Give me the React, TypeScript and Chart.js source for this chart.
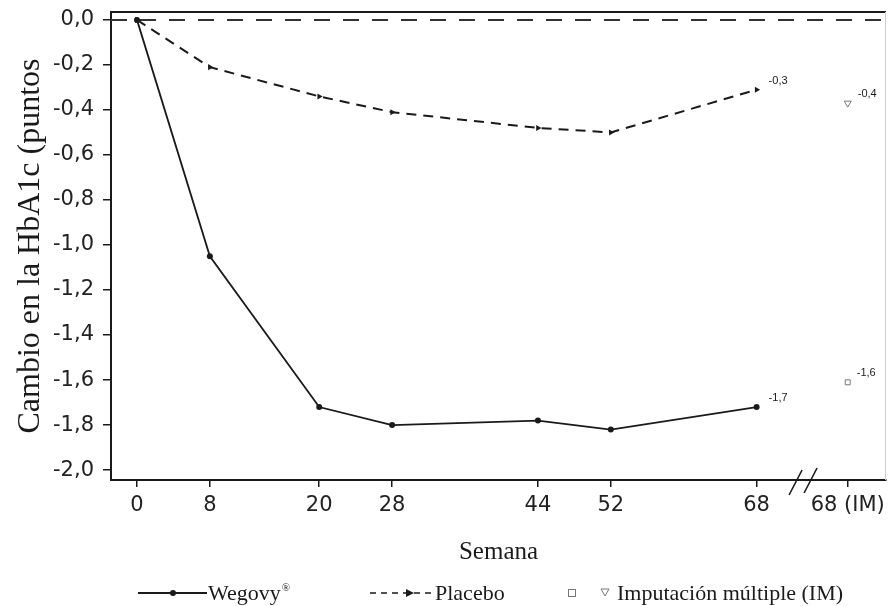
import React, { useEffect, useRef } from "react";
import { Chart, registerables } from "chart.js";

Chart.register(...registerables);

// ---- data ----
const weeks = [0, 8, 20, 28, 44, 52, 68];
const wegovyValues = [0, -1.05, -1.72, -1.8, -1.78, -1.82, -1.72];
const placeboValues = [0, -0.21, -0.34, -0.41, -0.48, -0.5, -0.31];
const imWeek = 78;
const wegovyIM = -1.61;
const placeboIM = -0.37;
const xTickValues = [0, 8, 20, 28, 44, 52, 68, 78];
const xTickLabels = ["0", "8", "20", "28", "44", "52", "68", "68 (IM)"];
const yTickValues = [0, -0.2, -0.4, -0.6, -0.8, -1.0, -1.2, -1.4, -1.6, -1.8, -2.0];
const breakWeek = 73.1;
const yTitle = "Cambio en la HbA1c (puntos";
const xTitle = "Semana";
const legendWegovy = "Wegovy";
const legendPlacebo = "Placebo";
const legendIM = "Imputación múltiple (IM)";

const INK = "#1a1a1a";
const fmt = (v: number) => {
  const s = v.toFixed(1).replace(".", ",");
  return s === "-0,0" ? "0,0" : s;
};

const decorPlugin = {
  id: "decor",
  beforeDatasetsDraw(chart: any) {
    const { ctx, chartArea, scales } = chart;
    const y0 = scales.y.getPixelForValue(0);
    ctx.save();
    ctx.strokeStyle = "#333";
    ctx.lineWidth = 2;
    ctx.setLineDash([16, 13]);
    ctx.beginPath();
    ctx.moveTo(chartArea.left, y0);
    ctx.lineTo(chartArea.right, y0);
    ctx.stroke();
    ctx.restore();
  },
  afterDraw(chart: any) {
    const { ctx, chartArea, scales } = chart;
    ctx.save();
    // top border
    ctx.strokeStyle = INK;
    ctx.lineWidth = 2;
    ctx.beginPath();
    ctx.moveTo(chartArea.left - 1, chartArea.top);
    ctx.lineTo(chartArea.right, chartArea.top);
    ctx.stroke();
    // right border (faint)
    ctx.strokeStyle = "#cfcfcf";
    ctx.lineWidth = 1;
    ctx.beginPath();
    ctx.moveTo(chartArea.right - 0.5, chartArea.top);
    ctx.lineTo(chartArea.right - 0.5, chartArea.bottom);
    ctx.stroke();

    // axis break marks
    const bx = scales.x.getPixelForValue(breakWeek);
    const by = chartArea.bottom;
    ctx.strokeStyle = INK;
    ctx.lineWidth = 1.6;
    ctx.beginPath();
    ctx.moveTo(bx - 14, by + 15);
    ctx.lineTo(bx - 1, by - 10);
    ctx.moveTo(bx + 1, by + 13);
    ctx.lineTo(bx + 14, by - 12);
    ctx.stroke();

    // value labels
    ctx.fillStyle = INK;
    ctx.font = "11px 'Liberation Sans'";
    ctx.textAlign = "left";
    ctx.textBaseline = "middle";
    const lab = (dsIndex: number, idx: number, val: number, dx: number) => {
      const p = chart.getDatasetMeta(dsIndex).data[idx];
      if (!p) return;
      ctx.fillText(fmt(val), p.x + dx, p.y - 9);
    };
    lab(0, weeks.length - 1, wegovyValues[wegovyValues.length - 1], 12);
    lab(1, weeks.length - 1, placeboValues[placeboValues.length - 1], 12);
    lab(2, 0, wegovyIM, 9);
    lab(3, 0, placeboIM, 10);

    // legend
    const ly = 593;
    ctx.setLineDash([]);
    ctx.strokeStyle = INK;
    ctx.lineWidth = 1.8;
    ctx.beginPath();
    ctx.moveTo(138, ly);
    ctx.lineTo(207, ly);
    ctx.stroke();
    ctx.beginPath();
    ctx.arc(173, ly, 3, 0, Math.PI * 2);
    ctx.fillStyle = INK;
    ctx.fill();
    ctx.font = "22px 'Liberation Serif'";
    ctx.textBaseline = "alphabetic";
    ctx.fillText(legendWegovy, 208, ly + 7);
    const ww = ctx.measureText(legendWegovy).width;
    ctx.font = "11px 'Liberation Serif'";
    ctx.fillText("®", 208 + ww + 1, ly - 2);

    ctx.lineWidth = 1.5;
    ctx.setLineDash([6, 5]);
    ctx.beginPath();
    ctx.moveTo(370, ly);
    ctx.lineTo(432, ly);
    ctx.stroke();
    ctx.setLineDash([]);
    ctx.beginPath();
    ctx.moveTo(414, ly);
    ctx.lineTo(406, ly - 4);
    ctx.lineTo(406, ly + 4);
    ctx.closePath();
    ctx.fill();
    ctx.font = "22px 'Liberation Serif'";
    ctx.fillText(legendPlacebo, 435, ly + 7);

    ctx.strokeStyle = "#777";
    ctx.lineWidth = 1;
    ctx.strokeRect(568.5, ly - 3.5, 7, 7);
    ctx.beginPath();
    ctx.moveTo(601, ly - 4);
    ctx.lineTo(609, ly - 4);
    ctx.lineTo(605, ly + 3);
    ctx.closePath();
    ctx.stroke();
    ctx.fillStyle = INK;
    ctx.fillText(legendIM, 617, ly + 7);
    ctx.restore();
  },
};

export default function App() {
  const ref = useRef<HTMLCanvasElement | null>(null);

  useEffect(() => {
    if (!ref.current) return;
    const chart = new Chart(ref.current, {
      type: "line",
      data: {
        datasets: [
          {
            label: "Wegovy",
            data: weeks.map((w, i) => ({ x: w, y: wegovyValues[i] })),
            borderColor: INK,
            backgroundColor: INK,
            borderWidth: 1.8,
            pointRadius: 3,
            pointStyle: "circle",
            pointBackgroundColor: INK,
            pointBorderWidth: 0,
            tension: 0,
          },
          {
            label: "Placebo",
            data: weeks.map((w, i) => ({ x: w, y: placeboValues[i] })),
            borderColor: INK,
            backgroundColor: INK,
            borderWidth: 2,
            borderDash: [10, 7],
            pointRadius: 3.5,
            pointStyle: "triangle",
            rotation: 90,
            pointBackgroundColor: INK,
            pointBorderWidth: 0,
            tension: 0,
          },
          {
            label: "Wegovy IM",
            data: [{ x: imWeek, y: wegovyIM }],
            showLine: false,
            pointStyle: "rect",
            pointRadius: 3.5,
            pointBorderColor: "#777",
            pointBackgroundColor: "rgba(0,0,0,0)",
            pointBorderWidth: 1,
          },
          {
            label: "Placebo IM",
            data: [{ x: imWeek, y: placeboIM }],
            showLine: false,
            pointStyle: "triangle",
            rotation: 180,
            pointRadius: 4,
            pointBorderColor: "#777",
            pointBackgroundColor: "rgba(0,0,0,0)",
            pointBorderWidth: 1,
          },
        ],
      },
      options: {
        responsive: false,
        animation: false,
        events: [],
        layout: { padding: { left: 0, top: 12, right: 4, bottom: 0 } },
        plugins: {
          legend: { display: false },
          tooltip: { enabled: false },
        },
        scales: {
          x: {
            type: "linear",
            min: -2.85,
            max: 82.2,
            afterBuildTicks: (scale: any) => {
              scale.ticks = xTickValues.map((v) => ({ value: v }));
            },
            afterFit: (scale: any) => {
              scale.height = 126;
              scale.paddingLeft = 0;
              scale.paddingRight = 0;
            },
            ticks: {
              autoSkip: false,
              maxRotation: 0,
              padding: 6,
              color: "#222",
              font: { family: "'DejaVu Sans'", size: 21 },
              callback: (v: any) => {
                const i = xTickValues.indexOf(Number(v));
                return i >= 0 ? xTickLabels[i] : "";
              },
            },
            grid: {
              drawOnChartArea: false,
              drawTicks: true,
              tickLength: 7,
              color: INK,
              lineWidth: 1.5,
            },
            border: { display: true, color: INK, width: 2 },
            title: {
              display: true,
              text: xTitle,
              color: INK,
              font: { family: "'Liberation Serif'", size: 25 },
              padding: { top: 0, bottom: 39 },
            },
          },
          y: {
            type: "linear",
            min: -2.044,
            max: 0.035,
            afterBuildTicks: (scale: any) => {
              scale.ticks = yTickValues.map((v) => ({ value: v }));
            },
            afterFit: (scale: any) => {
              scale.width = 111;
              scale.paddingTop = 0;
              scale.paddingBottom = 0;
            },
            ticks: {
              autoSkip: false,
              padding: 9,
              color: "#222",
              font: { family: "'DejaVu Sans'", size: 21 },
              callback: (v: any) => fmt(Number(v)),
            },
            grid: {
              drawOnChartArea: false,
              drawTicks: true,
              tickLength: 8,
              color: INK,
              lineWidth: 1.5,
            },
            border: { display: true, color: INK, width: 2 },
            title: {
              display: true,
              text: yTitle,
              color: INK,
              font: { family: "'Liberation Serif'", size: 32 },
              padding: { top: 11, bottom: 0 },
            },
          },
        },
      },
      plugins: [decorPlugin],
    } as any);
    return () => chart.destroy();
  }, []);

  return (
    <div style={{ position: "absolute", left: 0, top: 0, width: 891, height: 606, background: "#fff" }}>
      <canvas ref={ref} width={891} height={606} style={{ display: "block" }} />
    </div>
  );
}
